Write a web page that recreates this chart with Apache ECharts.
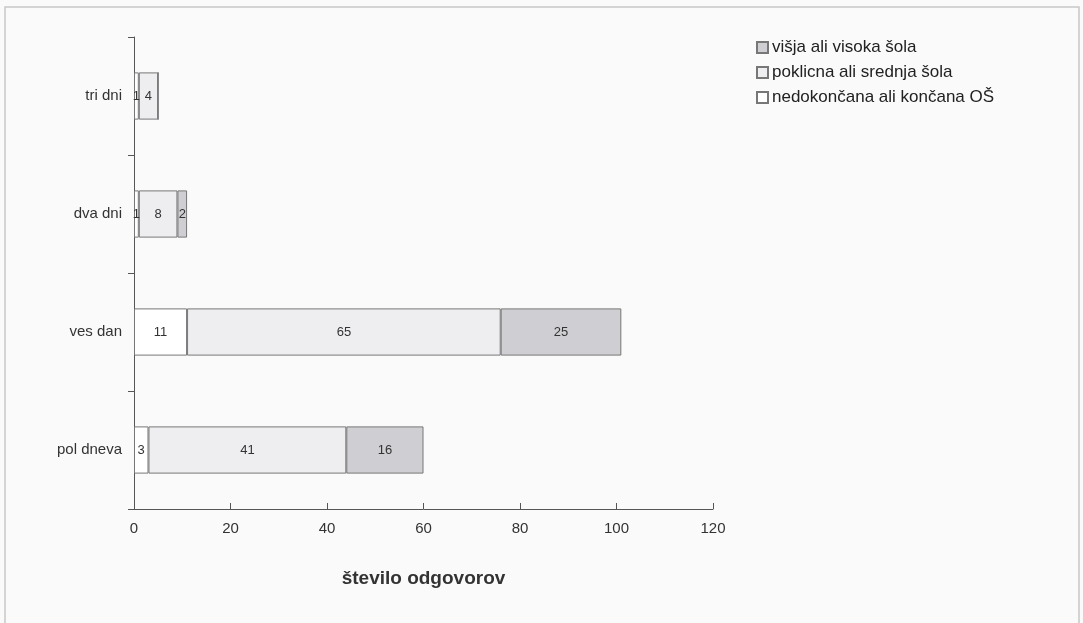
<!DOCTYPE html>
<html><head><meta charset="utf-8">
<script src="https://cdn.jsdelivr.net/npm/echarts@6/dist/echarts.min.js"></script>
<style>html,body{margin:0;padding:0;background:#fafafa}#c{width:1083px;height:623px}</style>
</head><body><div id="c"></div>
<script>
const categories = ['pol dneva', 'ves dan', 'dva dni', 'tri dni'];
const seriesNames = ['nedokončana ali končana OŠ', 'poklicna ali srednja šola', 'višja ali visoka šola'];
const osnovna = [3, 11, 1, 1];
const srednja = [41, 65, 8, 4];
const visoka = [16, 25, 2, 0];
const xTicks = [0, 20, 40, 60, 80, 100, 120];
const axisTitle = 'število odgovorov';

const colors = ['#ffffff', '#eeeef1', '#cfcfd3'];
const values = [osnovna, srednja, visoka];

const chart = echarts.init(document.getElementById('c'));
chart.setOption({
  backgroundColor: '#fafafa',
  animation: false,
  textStyle: { fontFamily: 'Liberation Sans, Arial, sans-serif' },
  graphic: [{
    type: 'rect', shape: { x: 5, y: 7, width: 1074, height: 640 },
    style: { fill: 'none', stroke: '#c8c8c8', lineWidth: 1.5 }, silent: true
  }],
  grid: { left: 134, right: 370, top: 37, bottom: 114, containLabel: false },
  legend: {
    orient: 'vertical', left: 751, top: 34, itemWidth: 11, itemHeight: 11, itemGap: 8,
    icon: 'rect',
    data: [seriesNames[2], seriesNames[1], seriesNames[0]],
    textStyle: { fontSize: 17, color: '#222', padding: [0, 0, 0, -1] }
  },
  xAxis: {
    type: 'value', min: xTicks[0], max: xTicks[xTicks.length - 1], interval: 20,
    splitLine: { show: false },
    axisLine: { show: true, lineStyle: { color: '#555' } },
    axisTick: { show: true, inside: true, length: 6, lineStyle: { color: '#555' } },
    axisLabel: { fontSize: 15, color: '#333', margin: 12 },
    name: axisTitle, nameLocation: 'middle', nameGap: 60,
    nameTextStyle: { fontSize: 19, fontWeight: 'bold', color: '#333' }
  },
  yAxis: {
    type: 'category', data: categories,
    axisLine: { show: true, lineStyle: { color: '#555' } },
    axisTick: { show: true, length: 6, lineStyle: { color: '#555' } },
    axisLabel: { fontSize: 15, color: '#333', margin: 12 }
  },
  series: values.map((v, i) => ({
    name: seriesNames[i], type: 'bar', stack: 'total', data: v,
    barCategoryGap: '60%',
    itemStyle: { color: colors[i], borderColor: '#777', borderWidth: 1 },
    label: {
      show: true, position: 'inside', fontSize: 13, color: '#333',
      formatter: p => (p.value > 0 ? p.value : '')
    }
  }))
});
</script></body></html>
